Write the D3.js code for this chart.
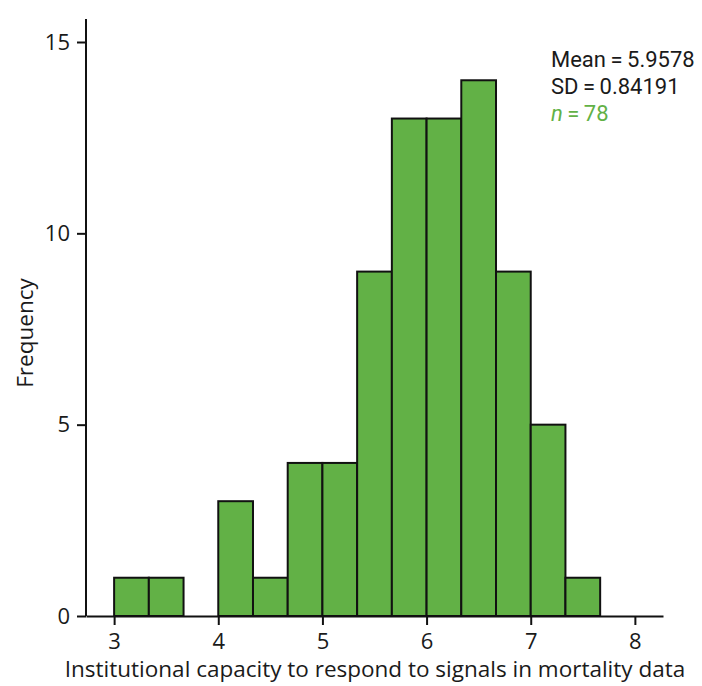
<!DOCTYPE html>
<html>
<head>
<meta charset="utf-8">
<script src="https://cdn.jsdelivr.net/npm/d3@7"></script>
<style>
  body { margin: 0; background: #fff; }
  text { font-family: "Open Sans", "Noto Sans", sans-serif; fill: #1a1a1a; }
</style>
</head>
<body>
<div id="chart"></div>
<script>
// histogram bins (lower edge, upper edge) and their counts
const binStarts = [3, 10/3, 11/3, 4, 13/3, 14/3, 5, 16/3, 17/3, 6, 19/3, 20/3, 7, 22/3];
const binWidth = 1/3;
const counts = [1, 1, 0, 3, 1, 4, 4, 9, 13, 13, 14, 9, 5, 1];
const xTicks = [3, 4, 5, 6, 7, 8];
const yTicks = [0, 5, 10, 15];
const statLines = ["Mean\u2009=\u20095.9578", "SD\u2009=\u20090.84191"];

const width = 702, height = 686;
const barColor = "#62b146";
const fontStack = "'Open Sans', 'Noto Sans', sans-serif";

const svg = d3.select("#chart").append("svg")
    .attr("width", width)
    .attr("height", height);

const x = d3.scaleLinear().domain([2.73, 8.27]).range([86, 663]);
const y = d3.scaleLinear().domain([0, 15]).range([616, 42]);

// bars
svg.selectAll(".bar")
    .data(counts.map((c, i) => ({ x0: binStarts[i], x1: binStarts[i] + binWidth, n: c })).filter(d => d.n > 0))
    .enter()
    .append("rect")
    .attr("x", d => x(d.x0))
    .attr("y", d => y(d.n))
    .attr("width", d => x(d.x1) - x(d.x0))
    .attr("height", d => y(0) - y(d.n))
    .attr("fill", barColor)
    .attr("stroke", "#111")
    .attr("stroke-width", 2);

// x axis
const xAxis = svg.append("g")
    .attr("transform", "translate(0," + y(0) + ")")
    .call(d3.axisBottom(x).tickValues(xTicks).tickFormat(d3.format("d"))
        .tickSize(9).tickPadding(8).tickSizeOuter(0));

// y axis
const yAxis = svg.append("g")
    .attr("transform", "translate(" + x.range()[0] + ",0)")
    .call(d3.axisLeft(y).tickValues(yTicks).tickFormat(d3.format("d"))
        .tickSize(9).tickPadding(7).tickSizeOuter(0));

yAxis.select(".domain").attr("d", "M0," + y(15.6) + "V" + y(0));

[xAxis, yAxis].forEach(a => {
    a.select(".domain").attr("stroke", "#111").attr("stroke-width", 2);
    a.selectAll(".tick line").attr("stroke", "#111").attr("stroke-width", 2);
    a.selectAll(".tick text")
        .style("font-family", fontStack)
        .style("font-size", "22px")
        .attr("fill", "#1a1a1a");
});

// axis titles
svg.append("text")
    .attr("x", 375)
    .attr("y", 677)
    .attr("text-anchor", "middle")
    .style("font-size", "22.5px")
    .text("Institutional capacity to respond to signals in mortality data");

svg.append("text")
    .attr("transform", "translate(33,333) rotate(-90)")
    .attr("text-anchor", "middle")
    .style("font-size", "22.5px")
    .text("Frequency");

// stats box (Roboto: tighter line box, so the 27px rows don't collide)
statLines.forEach((s, i) => {
    svg.append("text")
        .attr("x", 551)
        .attr("y", 67 + i * 27)
        .style("font-family", "Roboto, sans-serif")
        .style("font-size", "22px")
        .text(s);
});

const nText = svg.append("text")
    .attr("x", 551)
    .attr("y", 121)
    .style("font-family", "Roboto, sans-serif")
    .style("font-size", "22px")
    .style("fill", barColor);
nText.append("tspan").style("font-style", "italic").style("fill", barColor).text("n");
nText.append("tspan").style("fill", barColor).text("\u2009=\u2009" + d3.sum(counts));
</script>
</body>
</html>
